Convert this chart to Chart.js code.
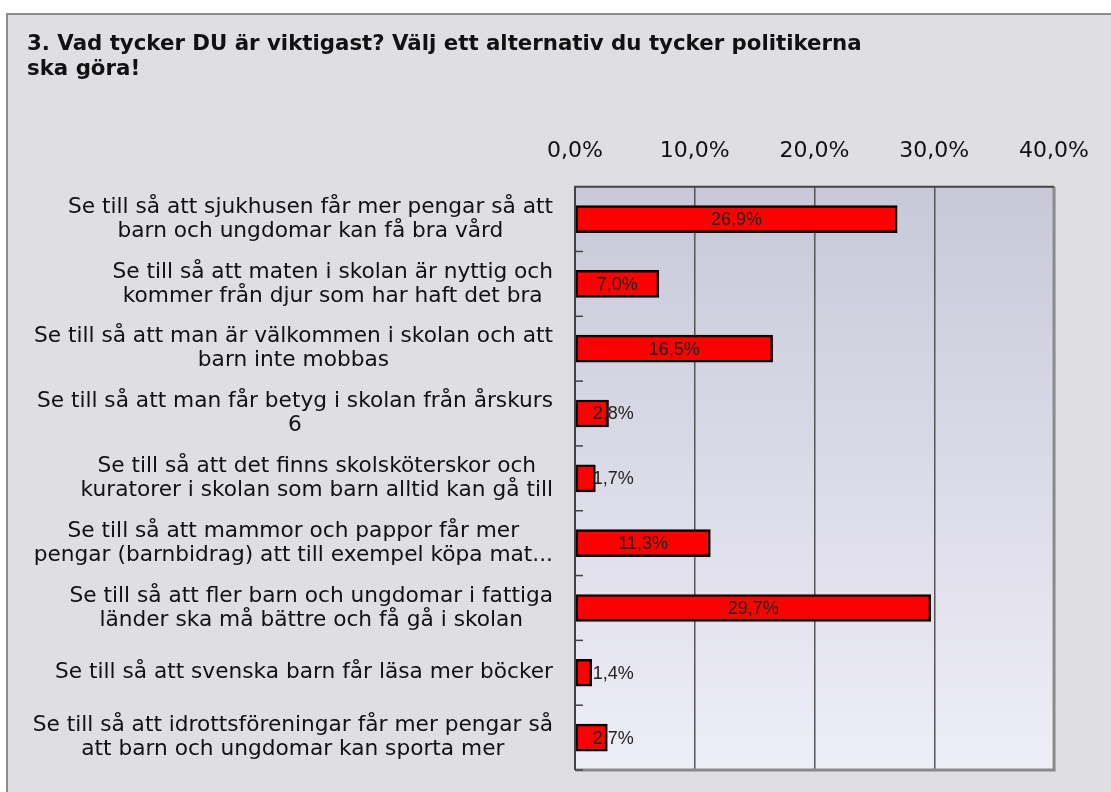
<!DOCTYPE html>
<html>
<head>
<meta charset="utf-8">
<script src="https://cdn.jsdelivr.net/npm/chart.js@4"></script>
<style>
  body { margin: 0; background: #ffffff; }
  #box {
    position: absolute; left: 6px; top: 13px; width: 1120px; height: 800px;
    background: #dfdee3; border-left: 2px solid #8c8c8c; border-top: 2px solid #8c8c8c;
  }
  #wrap { position: absolute; left: 0; top: 0; width: 1111px; height: 792px; }
</style>
</head>
<body>
<div id="box"></div>
<div id="wrap"><canvas id="chart" width="1111" height="792"></canvas></div>
<script>
const titleLines = [
    '3. Vad tycker DU är viktigast? Välj ett alternativ du tycker politikerna',
    'ska göra!'
];
const categories = [
    ['Se till så att sjukhusen får mer pengar så att', 'barn och ungdomar kan få bra vård'],
    ['Se till så att maten i skolan är nyttig och', 'kommer från djur som har haft det bra'],
    ['Se till så att man är välkommen i skolan och att', 'barn inte mobbas'],
    ['Se till så att man får betyg i skolan från årskurs', '6'],
    ['Se till så att det finns skolsköterskor och', 'kuratorer i skolan som barn alltid kan gå till'],
    ['Se till så att mammor och pappor får mer', 'pengar (barnbidrag) att till exempel köpa mat...'],
    ['Se till så att fler barn och ungdomar i fattiga', 'länder ska må bättre och få gå i skolan'],
    ['Se till så att svenska barn får läsa mer böcker'],
    ['Se till så att idrottsföreningar får mer pengar så', 'att barn och ungdomar kan sporta mer']
];
const percentages = [26.9, 7.0, 16.5, 2.8, 1.7, 11.3, 29.7, 1.4, 2.7];
const xTicks = [0, 10, 20, 30, 40];

function fmt(v) {
    return v.toFixed(1).replace('.', ',') + '%';
}

// plot background gradient + frame + small category ticks
const plotFrame = {
    id: 'plotFrame',
    beforeDatasetsDraw(chart) {
        const { ctx, chartArea: a } = chart;
        ctx.save();
        const g = ctx.createLinearGradient(0, a.top, 0, a.bottom);
        g.addColorStop(0, '#c9c8d9');
        g.addColorStop(1, '#eeeef7');
        ctx.fillStyle = g;
        ctx.globalCompositeOperation = 'destination-over';
        ctx.fillRect(a.left, a.top, a.right - a.left, a.bottom - a.top);
        ctx.restore();
    },
    afterDatasetsDraw(chart) {
        const { ctx, chartArea: a, scales } = chart;
        ctx.save();
        // right and bottom edges
        ctx.strokeStyle = '#8a8a8a';
        ctx.lineWidth = 3;
        ctx.beginPath();
        ctx.moveTo(a.right, a.top);
        ctx.lineTo(a.right, a.bottom);
        ctx.lineTo(a.left, a.bottom);
        ctx.stroke();
        // top and left edges
        ctx.strokeStyle = '#444';
        ctx.lineWidth = 2;
        ctx.beginPath();
        ctx.moveTo(a.right, a.top);
        ctx.lineTo(a.left, a.top);
        ctx.lineTo(a.left, a.bottom);
        ctx.stroke();
        // short ticks between categories
        const y = scales.y;
        ctx.lineWidth = 1.5;
        for (let i = 0; i < categories.length; i++) {
            const py = y.getPixelForValue(i + 0.5);
            ctx.beginPath();
            ctx.moveTo(a.left, py);
            ctx.lineTo(a.left + 8, py);
            ctx.stroke();
        }
        ctx.restore();
    }
};

// category labels: each block right aligned, lines centered inside the block
const catLabels = {
    id: 'catLabels',
    afterDraw(chart) {
        const { ctx, chartArea: a, scales } = chart;
        const lineH = 24;
        ctx.save();
        ctx.font = '21.7px "DejaVu Sans"';
        ctx.fillStyle = '#111';
        ctx.textAlign = 'center';
        ctx.textBaseline = 'middle';
        categories.forEach((lines, i) => {
            const py = scales.y.getPixelForValue(i);
            const blockW = Math.max(...lines.map(l => ctx.measureText(l).width));
            const cx = a.left - 22 - blockW / 2;
            lines.forEach((l, j) => {
                ctx.fillText(l, cx, py + (j - (lines.length - 1) / 2) * lineH);
            });
        });
        ctx.restore();
    }
};

// value labels on the bars
const barLabels = {
    id: 'barLabels',
    afterDatasetsDraw(chart) {
        const { ctx } = chart;
        const meta = chart.getDatasetMeta(0);
        ctx.save();
        ctx.font = '18px "Liberation Sans"';
        ctx.fillStyle = '#222';
        ctx.textAlign = 'center';
        ctx.textBaseline = 'middle';
        meta.data.forEach((bar, i) => {
            const txt = fmt(percentages[i]);
            const w = ctx.measureText(txt).width;
            const cx = Math.max((bar.base + bar.x) / 2, bar.base + w / 2 + 17);
            ctx.fillText(txt, cx, bar.y + 1);
        });
        ctx.restore();
    }
};

new Chart(document.getElementById('chart'), {
    type: 'bar',
    data: {
        labels: categories,
        datasets: [{
            data: percentages,
            backgroundColor: '#ff0000',
            borderColor: '#000000',
            borderWidth: 2.5,
            borderSkipped: false,
            barThickness: 27
        }]
    },
    options: {
        indexAxis: 'y',
        responsive: false,
        animation: false,
        layout: { padding: { top: 22, left: 27, right: 56, bottom: 22 } },
        plugins: {
            legend: { display: false },
            tooltip: { enabled: false },
            title: {
                display: true,
                text: titleLines,
                align: 'start',
                color: '#111',
                font: { family: 'DejaVu Sans', size: 21.3, weight: 'bold', lineHeight: 1.18 },
                padding: { top: 10, bottom: 34 }
            }
        },
        scales: {
            x: {
                position: 'top',
                min: 0,
                max: 40,
                afterBuildTicks: (s) => { s.ticks = xTicks.map(v => ({ value: v })); },
                grid: {
                    color: (c) => (c.index === 0 || c.index === xTicks.length - 1) ? 'rgba(0,0,0,0)' : '#555',
                    lineWidth: 1.5,
                    drawTicks: false
                },
                border: { display: false },
                ticks: {
                    padding: 22,
                    color: '#111',
                    font: { family: 'DejaVu Sans', size: 22 },
                    callback: (v) => fmt(v)
                }
            },
            y: {
                grid: { display: false, drawTicks: false },
                border: { display: false },
                afterFit: (s) => {
                    s.width = 575 - 27;
                    s.paddingTop = 0;
                    s.paddingBottom = 0;
                },
                ticks: { display: false }
            }
        }
    },
    plugins: [plotFrame, catLabels, barLabels]
});
</script>
</body>
</html>
